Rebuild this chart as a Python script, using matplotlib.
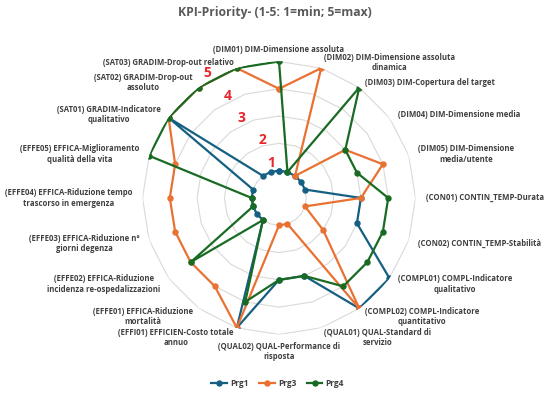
import numpy as np
import matplotlib
matplotlib.use("Agg")
import matplotlib.pyplot as plt

# KPI-Kategorien (im Uhrzeigersinn, oben beginnend)
categories = [
    "(DIM01) DIM-Dimensione assoluta",
    "(DIM02) DIM-Dimensione assoluta\ndinamica",
    "(DIM03) DIM-Copertura del target",
    "(DIM04) DIM-Dimensione media",
    "(DIM05) DIM-Dimensione\nmedia/utente",
    "(CON01) CONTIN_TEMP-Durata",
    "(CON02) CONTIN_TEMP-Stabilità",
    "(COMPL01) COMPL-Indicatore\nqualitativo",
    "(COMPL02) COMPL-Indicatore\nquantitativo",
    "(QUAL01) QUAL-Standard di\nservizio",
    "(QUAL02) QUAL-Performance di\nrisposta",
    "(EFFI01) EFFICIEN-Costo totale\nannuo",
    "(EFFE01) EFFICA-Riduzione\nmortalità",
    "(EFFE02) EFFICA-Riduzione\nincidenza re-ospedalizzazioni",
    "(EFFE03) EFFICA-Riduzione n°\ngiorni degenza",
    "(EFFE04) EFFICA-Riduzione tempo\ntrascorso in emergenza",
    "(EFFE05) EFFICA-Miglioramento\nqualità della vita",
    "(SAT01) GRADIM-Indicatore\nqualitativo",
    "(SAT02) GRADIM-Drop-out\nassoluto",
    "(SAT03) GRADIM-Drop-out relativo",
]

prg1 = [1, 1, 1, 1, 1, 3, 3, 5, 5, 3, 3, 5, 1, 1, 1, 1, 1, 5, 1, 1]
prg3 = [4, 5, 1, 3, 4, 3, 1, 2, 5, 1, 1, 5, 4, 4, 4, 4, 4, 5, 5, 5]
prg4 = [5, 1, 5, 3, 3, 4, 4, 4, 4, 3, 3, 4, 1, 4, 1, 1, 5, 5, 5, 5]

levels = [1, 2, 3, 4, 5]
title = "KPI-Priority- (1-5: 1=min; 5=max)"

label_font = ["Open Sans", "DejaVu Sans"]
text_col = "#404040"

fig = plt.figure(figsize=(5.5, 3.93), dpi=100)
ax = fig.add_axes([0.2591, 0.1489, 0.4964, 0.6947], projection="polar")
ax.set_theta_zero_location("N")
ax.set_theta_direction(-1)
ax.set_ylim(0, 5)
ax.grid(False)
ax.set_xticks([])
ax.set_yticks([])
ax.spines["polar"].set_visible(False)
ax.patch.set_alpha(0)

n = len(categories)
angles = np.arange(n) * 2 * np.pi / n
closed = np.append(angles, angles[0])

# Gitternetz als Polygone
for lv in levels:
    ax.plot(closed, [lv] * (n + 1), color="#D9D9D9", lw=0.8, zorder=1)

series = {"Prg1": (prg1, "#156082"), "Prg3": (prg3, "#E97132"), "Prg4": (prg4, "#196B24")}
for name, (vals, col) in series.items():
    v = vals + vals[:1]
    ax.plot(closed, v, color=col, lw=1.6, marker="o", ms=3.6, label=name, zorder=3)

# Kategorienbeschriftungen
for ang, lab in zip(angles, categories):
    s, c = np.sin(ang), np.cos(ang)
    if s > 0.1:
        ha = "left"
    elif s < -0.1:
        ha = "right"
    else:
        ha = "center"
    r = 5.37
    va = "center"
    dy = -3.0 * max(c, 0)   # obere Beschriftungen etwas tiefer
    if abs(s) <= 0.1:
        r = 5.27
        dy = 0
        va = "bottom" if c > 0 else "top"
    ax.annotate(lab, xy=(ang, r), xytext=(0, dy), textcoords="offset points",
                ha=ha, va=va, multialignment="center",
                fontsize=5.6, fontweight="bold", color=text_col,
                family=label_font, linespacing=1.2, annotation_clip=False)

# rote Skalenwerte (manuell platziert)
scale_pos = [(347, 1.31), (343.7, 2.21), (334.6, 3.24), (333.4, 4.18), (330, 5.28)]
for lv, (deg, rr) in zip(levels, scale_pos):
    ax.text(np.deg2rad(deg), rr, str(lv), ha="center", va="center",
            fontsize=10, fontweight="bold", color="#E8262B", family=label_font,
            clip_on=False, zorder=5)

fig.text(0.5, 0.967, title, ha="center", va="center", fontsize=8.7,
         fontweight="bold", color="#595959", family=label_font)

leg = fig.legend(loc="center", bbox_to_anchor=(0.505, 0.025), ncol=3, frameon=False,
                 prop={"family": label_font, "size": 6, "weight": "bold"},
                 handlelength=1.9, columnspacing=1.2, handletextpad=0.4)
for t in leg.get_texts():
    t.set_color(text_col)

fig.savefig("out.png", dpi=100)
